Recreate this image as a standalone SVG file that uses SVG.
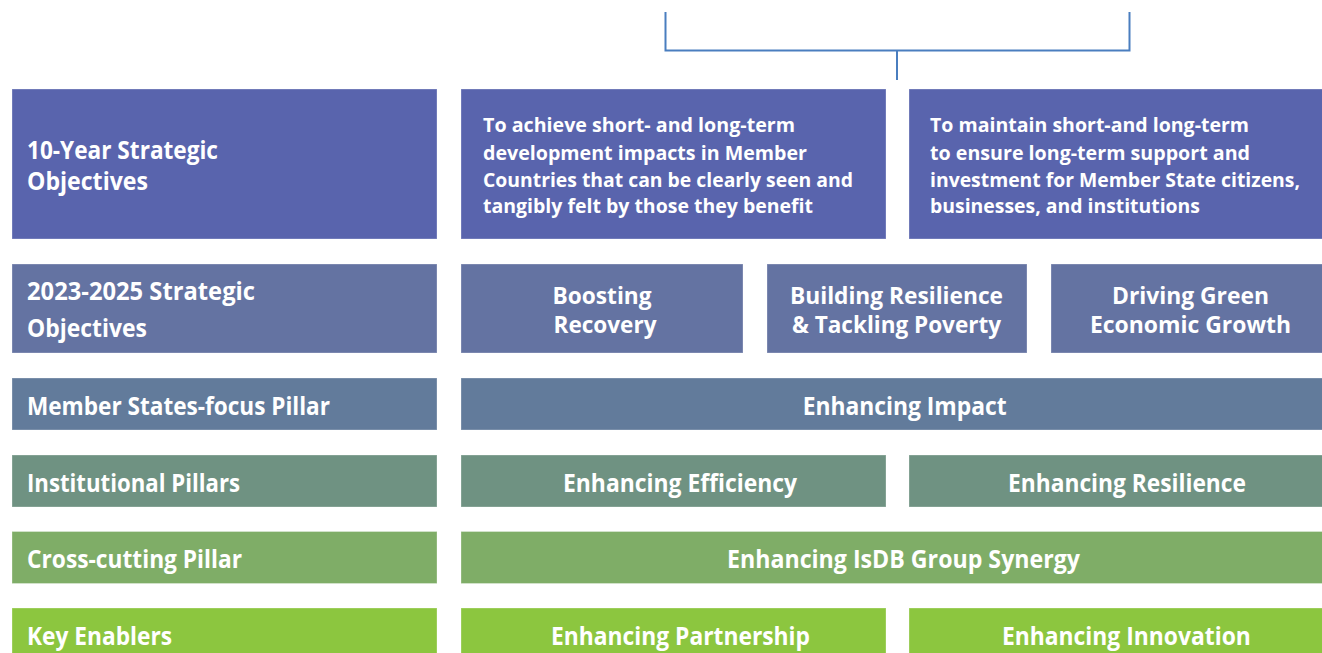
<svg xmlns="http://www.w3.org/2000/svg" width="1322" height="653" viewBox="0 0 1322 653">
<style>
  text { font-family: "Open Sans", "Noto Sans", "Liberation Sans", sans-serif; font-weight: 700; fill: #ffffff; }
  .lbl { font-size: 25.5px; }
  .obj { font-size: 24px; }
  .desc { font-size: 20px; }
  .mid { text-anchor: middle; }
  rect { stroke: #ffffff; stroke-opacity: 0.3; stroke-width: 1; }
  .r1 { fill: #5964ad; }
  .r2 { fill: #6473a2; }
  .r3 { fill: #627b9b; }
  .r4 { fill: #6f9282; }
  .r5 { fill: #7fad67; }
  .r6 { fill: #8cc63f; }
  .conn { fill: none; stroke: #4a7ebf; stroke-width: 2; }
</style>
<rect x="0" y="0" width="1322" height="653" fill="#ffffff" stroke="none"/>

<g id="connectors">
  <path class="conn" d="M665.5,12 V50.5 H1129.5 V12"/>
  <path class="conn" d="M897,50.5 V80"/>
</g>

<g id="label-10year">
  <rect class="r1" x="12" y="89" width="425" height="150"/>
  <text class="lbl" x="27" y="159" textLength="191" lengthAdjust="spacingAndGlyphs">10-Year Strategic</text>
  <text class="lbl" x="27" y="190" textLength="121" lengthAdjust="spacingAndGlyphs">Objectives</text>
</g>
<g id="obj-10year-1">
  <rect class="r1" x="461" y="89" width="425" height="150"/>
  <text class="desc" x="483" y="132" textLength="312" lengthAdjust="spacingAndGlyphs">To achieve short- and long-term</text>
  <text class="desc" x="483" y="159.5" textLength="324" lengthAdjust="spacingAndGlyphs">development impacts in Member</text>
  <text class="desc" x="483" y="186.5" textLength="370" lengthAdjust="spacingAndGlyphs">Countries that can be clearly seen and</text>
  <text class="desc" x="483" y="213" textLength="330" lengthAdjust="spacingAndGlyphs">tangibly felt by those they benefit</text>
</g>
<g id="obj-10year-2">
  <rect class="r1" x="909" y="89" width="414" height="150"/>
  <text class="desc" x="930" y="132" textLength="319" lengthAdjust="spacingAndGlyphs">To maintain short-and long-term</text>
  <text class="desc" x="930" y="159.5" textLength="320" lengthAdjust="spacingAndGlyphs">to ensure long-term support and</text>
  <text class="desc" x="930" y="186.5" textLength="370" lengthAdjust="spacingAndGlyphs">investment for Member State citizens,</text>
  <text class="desc" x="930" y="213" textLength="270" lengthAdjust="spacingAndGlyphs">businesses, and institutions</text>
</g>

<g id="label-2023">
  <rect class="r2" x="12" y="264" width="425" height="89"/>
  <text class="lbl" x="27" y="300" textLength="228" lengthAdjust="spacingAndGlyphs">2023-2025 Strategic</text>
  <text class="lbl" x="27" y="337" textLength="120" lengthAdjust="spacingAndGlyphs">Objectives</text>
</g>
<g id="obj-boosting">
  <rect class="r2" x="461" y="264" width="282" height="89"/>
  <text class="obj mid" x="602" y="304" textLength="99" lengthAdjust="spacingAndGlyphs">Boosting</text>
  <text class="obj mid" x="605" y="333" textLength="103" lengthAdjust="spacingAndGlyphs">Recovery</text>
</g>
<g id="obj-building">
  <rect class="r2" x="767" y="264" width="260" height="89"/>
  <text class="obj mid" x="896.5" y="304" textLength="213" lengthAdjust="spacingAndGlyphs">Building Resilience</text>
  <text class="obj mid" x="896.5" y="333" textLength="209" lengthAdjust="spacingAndGlyphs">&amp; Tackling Poverty</text>
</g>
<g id="obj-driving">
  <rect class="r2" x="1051" y="264" width="272" height="89"/>
  <text class="obj mid" x="1190.5" y="304" textLength="157" lengthAdjust="spacingAndGlyphs">Driving Green</text>
  <text class="obj mid" x="1190.5" y="333" textLength="201" lengthAdjust="spacingAndGlyphs">Economic Growth</text>
</g>

<g id="label-member">
  <rect class="r3" x="12" y="378" width="425" height="52"/>
  <text class="lbl" x="27" y="415" textLength="303" lengthAdjust="spacingAndGlyphs">Member States-focus Pillar</text>
</g>
<g id="pillar-impact">
  <rect class="r3" x="461" y="378" width="862" height="52"/>
  <text class="lbl mid" x="904.7" y="415" textLength="204" lengthAdjust="spacingAndGlyphs">Enhancing Impact</text>
</g>

<g id="label-institutional">
  <rect class="r4" x="12" y="455" width="425" height="52"/>
  <text class="lbl" x="27" y="491.5" textLength="213" lengthAdjust="spacingAndGlyphs">Institutional Pillars</text>
</g>
<g id="pillar-efficiency">
  <rect class="r4" x="461" y="455" width="425" height="52"/>
  <text class="lbl mid" x="680" y="491.5" textLength="234" lengthAdjust="spacingAndGlyphs">Enhancing Efficiency</text>
</g>
<g id="pillar-resilience">
  <rect class="r4" x="909" y="455" width="414" height="52"/>
  <text class="lbl mid" x="1127" y="491.5" textLength="238" lengthAdjust="spacingAndGlyphs">Enhancing Resilience</text>
</g>

<g id="label-crosscutting">
  <rect class="r5" x="12" y="531.5" width="425" height="52"/>
  <text class="lbl" x="27" y="568" textLength="215" lengthAdjust="spacingAndGlyphs">Cross-cutting Pillar</text>
</g>
<g id="pillar-synergy">
  <rect class="r5" x="461" y="531.5" width="862" height="52"/>
  <text class="lbl mid" x="903.5" y="568" textLength="353" lengthAdjust="spacingAndGlyphs">Enhancing IsDB Group Synergy</text>
</g>

<g id="label-enablers">
  <rect class="r6" x="12" y="608" width="425" height="52"/>
  <text class="lbl" x="27" y="644.5" textLength="145" lengthAdjust="spacingAndGlyphs">Key Enablers</text>
</g>
<g id="enabler-partnership">
  <rect class="r6" x="461" y="608" width="425" height="52"/>
  <text class="lbl mid" x="680.5" y="644.5" textLength="259" lengthAdjust="spacingAndGlyphs">Enhancing Partnership</text>
</g>
<g id="enabler-innovation">
  <rect class="r6" x="909" y="608" width="414" height="52"/>
  <text class="lbl mid" x="1126.4" y="644.5" textLength="249" lengthAdjust="spacingAndGlyphs">Enhancing Innovation</text>
</g>
</svg>
